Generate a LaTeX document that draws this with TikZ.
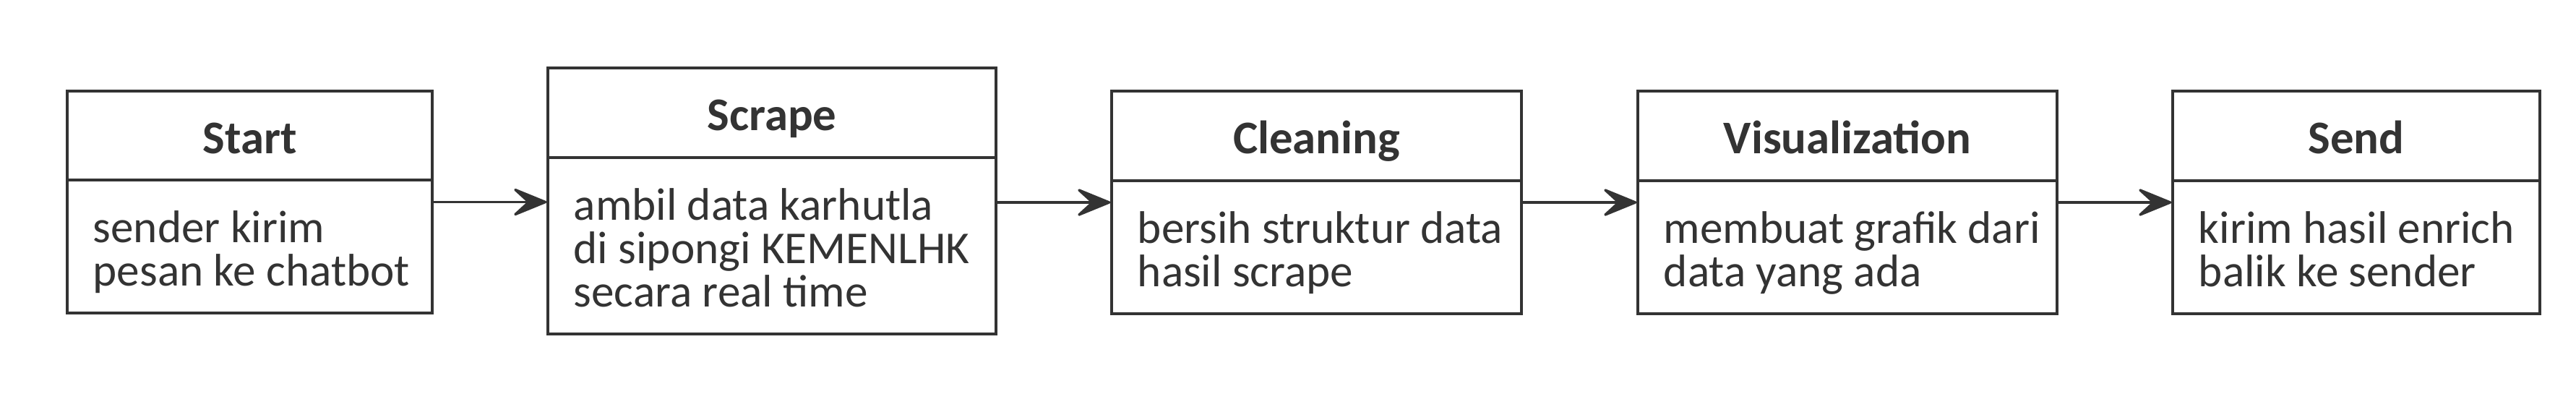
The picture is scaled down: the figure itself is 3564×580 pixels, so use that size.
\documentclass[tikz,border=0pt]{standalone}
\usepackage{fontspec}
\setmainfont{Carlito}
\usetikzlibrary{arrows.meta,fit}
\definecolor{ink}{RGB}{51,51,51}
\tikzset{
  box/.style={draw=ink, line width=0.83pt, inner sep=0pt},
  divider/.style={draw=ink, line width=0.83pt},
  titletext/.style={text=ink, inner sep=0pt, anchor=base, font=\fontsize{16.2pt}{16.2pt}\selectfont\bfseries},
  bodytext/.style={text=ink, inner sep=0pt, anchor=base west, align=left, font=\fontsize{15.8pt}{15pt}\selectfont},
  conn/.style={draw=ink, line width=0.83pt, -{Stealth[length=13.5pt,width=11pt,inset=6pt,round]}}
}
\begin{document}
\begin{tikzpicture}[x=0.25pt,y=-0.25pt]
\useasboundingbox (0,0) rectangle (3564,580);
% Start
\node[box, fit={(93,126) (598,433)}] (start) {};
\draw[divider] (93,249) -- (598,249);
\node[titletext] (startT) at (345.5,212.5) {Start};
\node[bodytext] (startB) at (128,395) {sender kirim\\pesan ke chatbot};
% Scrape
\node[box, fit={(758,94) (1378,462)}] (scrape) {};
\draw[divider] (758,218) -- (1378,218);
\node[titletext] (scrapeT) at (1068,180.5) {Scrape};
\node[bodytext] (scrapeB) at (793,424) {ambil data karhutla\\di sipongi KEMENLHK\\secara real time};
% Cleaning
\node[box, fit={(1538,126) (2105,434)}] (clean) {};
\draw[divider] (1538,250) -- (2105,250);
\node[titletext] (cleanT) at (1821.5,212.5) {Cleaning};
\node[bodytext] (cleanB) at (1573,396) {bersih struktur data\\hasil scrape};
% Visualization
\node[box, fit={(2266,126) (2846,434)}] (vis) {};
\draw[divider] (2266,250) -- (2846,250);
\node[titletext] (visT) at (2556,212.5) {Visualization};
\node[bodytext] (visB) at (2301,396) {membuat grafik dari\\data yang ada};
% Send
\node[box, fit={(3006,126) (3514,434)}] (send) {};
\draw[divider] (3006,250) -- (3514,250);
\node[titletext] (sendT) at (3260,212.5) {Send};
\node[bodytext] (sendB) at (3041,396) {kirim hasil enrich\\balik ke sender};
% connectors
\draw[conn] (start.east) -- (start.east -| scrape.west);
\draw[conn] (scrape.east |- clean.west) -- (clean.west);
\draw[conn] (clean.east) -- (vis.west);
\draw[conn] (vis.east) -- (send.west);
\end{tikzpicture}
\end{document}
